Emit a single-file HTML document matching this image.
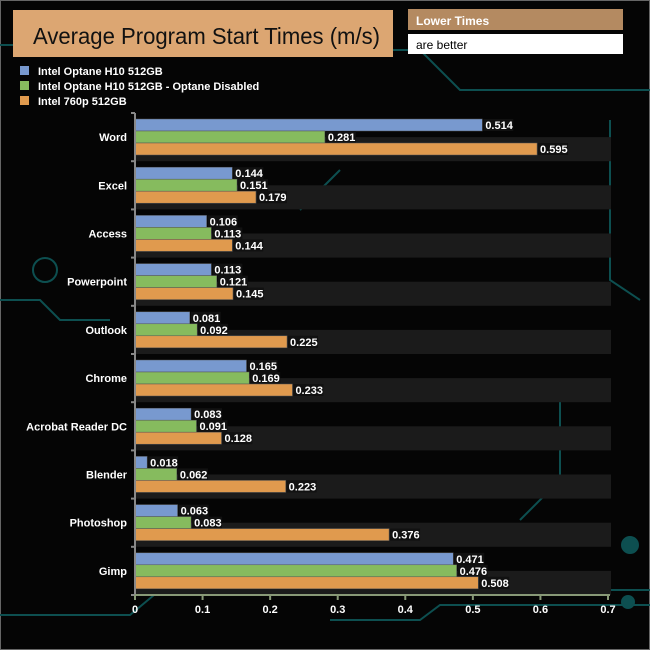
<!DOCTYPE html>
<html><head><meta charset="utf-8"><style>
body{margin:0;background:#000;}
svg{display:block;font-family:"Liberation Sans",Arial,sans-serif;}
</style></head><body>
<svg id="c" width="650" height="650">
<rect x="0.5" y="0.5" width="649" height="649" fill="#050505" stroke="#666"/>
<g stroke="#0d4f50" stroke-width="2" fill="none">
<path d="M0 45 H15 M392 50 H420 L460 90 H650"/>
<path d="M0 300 H40 L60 320 H110"/>
<path d="M610 120 V280 L640 300"/>
<path d="M0 615 H130 L160 590 M330 620 H420 L440 605 H650"/>
<path d="M610 590 H650 M520 520 L560 480 V400"/>
<circle cx="45" cy="270" r="12"/><circle cx="630" cy="545" r="8" fill="#0d4f50"/><circle cx="628" cy="602" r="6" fill="#0d4f50"/>
<path d="M300 210 L340 170 M460 190 H520"/>
</g>
<rect x="13" y="10" width="380" height="47" fill="#dca672"/>
<text x="33" y="44" font-size="23" fill="#111" textLength="347" lengthAdjust="spacingAndGlyphs">Average Program Start Times (m/s)</text>
<rect x="408" y="9" width="215" height="21" fill="#b48a61"/>
<text x="416" y="25" font-size="12" font-weight="bold" fill="#fff">Lower Times</text>
<rect x="408" y="34" width="215" height="20" fill="#fff"/>
<text x="416" y="49" font-size="12" fill="#000">are better</text>
<g id="legend"></g>
<g id="bands"></g>
<g id="bars"></g>
<g id="axes"></g>
</svg>
<script>
const categories=["Word","Excel","Access","Powerpoint","Outlook","Chrome","Acrobat Reader DC","Blender","Photoshop","Gimp"];
const seriesNames=["Intel Optane H10 512GB","Intel Optane H10 512GB - Optane Disabled","Intel 760p 512GB"];
const optane=[0.514,0.144,0.106,0.113,0.081,0.165,0.083,0.018,0.063,0.471];
const optaneDisabled=[0.281,0.151,0.113,0.121,0.092,0.169,0.091,0.062,0.083,0.476];
const i760p=[0.595,0.179,0.144,0.145,0.225,0.233,0.128,0.223,0.376,0.508];
const ticks=[0,0.1,0.2,0.3,0.4,0.5,0.6,0.7];
const colors=["#7899cf","#86bb5e","#e09a4e"];
const series=[optane,optaneDisabled,i760p];
const NS="http://www.w3.org/2000/svg";
const x0=135,x1=608,yTop=113,yBot=595,xMax=0.7;
const slot=(yBot-yTop)/categories.length;
const X=v=>x0+v/xMax*(x1-x0);
const Y=i=>yTop+i*slot;
function mk(tag,attrs,parent,txt){const e=document.createElementNS(NS,tag);for(const k in attrs)e.setAttribute(k,attrs[k]);if(txt!==undefined)e.textContent=txt;document.getElementById(parent).appendChild(e);return e;}
seriesNames.forEach((n,i)=>{
  const r=mk("rect",{x:20,y:66+i*15,width:9,height:9,fill:colors[i]},"legend");
  
  
  const t=mk("text",{x:38,y:75+i*15,"font-size":11,"font-weight":"bold",fill:"#fff"},"legend",n);
  
  
});
categories.forEach((c,i)=>{
  const b=mk("rect",{x:x0,y:Y(i)+slot/2,width:x1-x0+3,height:slot/2,fill:"#1b1b1b"},"bands");
  
  
  const t=mk("text",{x:127,y:Y(i)+slot/2+4,"font-size":11,"font-weight":"bold",fill:"#fff","text-anchor":"end"},"axes",c);
  
  
  series.forEach((s,j)=>{
    const y=Y(i)+6+j*12;
    const r=mk("rect",{x:x0,y:y,width:X(s[i])-x0,height:12,fill:colors[j],stroke:"#555","stroke-width":0.5},"bars");
    
    
    const lbl=s[i].toFixed(3);
    const bg=mk("rect",{x:X(s[i])+1,y:y,width:30,height:12,fill:"#111"},"bars");
    
    
    const t2=mk("text",{x:X(s[i])+3,y:y+10,"font-size":11,"font-weight":"bold",fill:"#fff"},"bars",lbl);
    
    
  });
});
const ya=mk("line",{x1:x0,y1:yTop,x2:x0,y2:yBot,stroke:"#888","stroke-width":2},"axes");


const xa=mk("line",{x1:x0,y1:yBot,x2:x1+2,y2:yBot,stroke:"#889977","stroke-width":2},"axes");


for(let i=0;i<=categories.length;i++){
  const tk=mk("line",{x1:x0-4,y1:Y(i),x2:x0,y2:Y(i),stroke:"#888","stroke-width":2},"axes");
  
  
}
ticks.forEach(v=>{
  const tk=mk("line",{x1:X(v),y1:yBot,x2:X(v),y2:yBot+5,stroke:"#889977","stroke-width":2},"axes");
  
  
  const t=mk("text",{x:X(v),y:yBot+18,"font-size":11,"font-weight":"bold",fill:"#fff","text-anchor":"middle"},"axes",String(v));
  
  
});
</script>
</body></html>
